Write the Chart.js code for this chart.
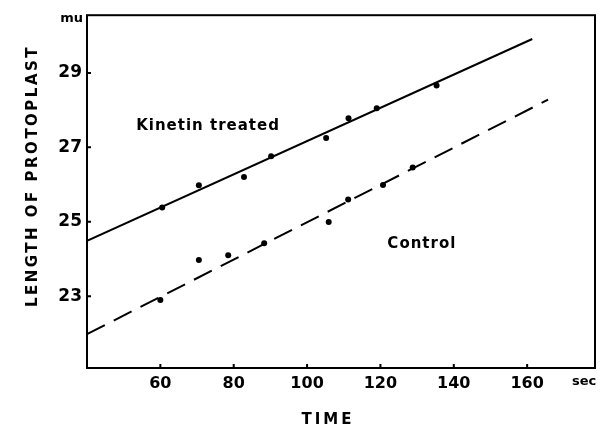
<!DOCTYPE html>
<html>
<head>
<meta charset="utf-8">
<script src="https://cdn.jsdelivr.net/npm/chart.js@4.4.0/dist/chart.umd.min.js"></script>
<style>
  html, body { margin: 0; padding: 0; background: #fff; }
  #wrap { width: 607px; height: 431px; position: relative; }
</style>
</head>
<body>
<div id="wrap"><canvas id="c"></canvas></div>
<script>
// tick labels
const xTicks = [60, 80, 100, 120, 140, 160];
const yTicks = [23, 25, 27, 29];

// measured points (time in sec, length in mu)
const kinetinX = [60.5, 70.5, 82.8, 90.2, 105.2, 111.3, 119.0, 135.3];
const kinetinY = [25.38, 25.98, 26.2, 26.76, 27.25, 27.78, 28.05, 28.66];
const controlX = [60, 70.5, 78.5, 88.3, 105.9, 111.2, 120.7, 128.8];
const controlY = [22.9, 23.97, 24.1, 24.42, 24.99, 25.6, 25.99, 26.46];

// fitted lines (end points)
const kinetinFitX = [40, 161.4];
const kinetinFitY = [24.49, 29.91];
const controlFitX = [40, 165.7];
const controlFitY = [21.98, 28.28];

const toPts = (xs, ys) => xs.map((x, i) => ({ x: x, y: ys[i] }));

const FONT = "'DejaVu Sans', sans-serif";

// frame, inward ticks and text
const decor = {
    id: 'decor',
    afterDraw(chart) {
        const ctx = chart.ctx;
        const a = chart.chartArea;
        const xs = chart.scales.x, ys = chart.scales.y;
        ctx.save();
        ctx.strokeStyle = '#000';
        ctx.lineWidth = 2;
        ctx.strokeRect(a.left, a.top, a.right - a.left, a.bottom - a.top);
        ctx.beginPath();
        xTicks.forEach(v => {
            const p = xs.getPixelForValue(v);
            ctx.moveTo(p, a.bottom); ctx.lineTo(p, a.bottom - 4);
        });
        yTicks.forEach(v => {
            const p = ys.getPixelForValue(v);
            ctx.moveTo(a.left, p); ctx.lineTo(a.left + 4, p);
        });
        ctx.stroke();

        ctx.fillStyle = '#000';
        ctx.textBaseline = 'middle';

        ctx.font = 'bold 15px ' + FONT;
        ctx.textAlign = 'center';
        ctx.letterSpacing = '1px';
        ctx.fillText('Kinetin treated', xs.getPixelForValue(73), ys.getPixelForValue(27.58));
        ctx.fillText('Control', xs.getPixelForValue(131.3), ys.getPixelForValue(24.41));

        ctx.font = 'bold 13px ' + FONT;
        ctx.letterSpacing = '0px';
        ctx.textAlign = 'right';
        ctx.fillText('mu', a.left - 4, a.top + 3);
        ctx.textAlign = 'left';
        ctx.fillText('sec', a.right - 23, a.bottom + 14);

        ctx.font = 'bold 15px ' + FONT;
        ctx.letterSpacing = '3px';
        ctx.textAlign = 'center';
        ctx.fillText('TIME', 328, a.bottom + 52);

        ctx.translate(33, 176);
        ctx.rotate(-Math.PI / 2);
        ctx.letterSpacing = '2.5px';
        ctx.fillText('LENGTH OF PROTOPLAST', 0, 0);
        ctx.restore();
    }
};

new Chart(document.getElementById('c').getContext('2d'), {
    type: 'scatter',
    data: {
        datasets: [
            {
                type: 'line',
                data: toPts(kinetinFitX, kinetinFitY),
                borderColor: '#000',
                borderWidth: 2,
                pointRadius: 0
            },
            {
                type: 'line',
                data: toPts(controlFitX, controlFitY),
                borderColor: '#000',
                borderWidth: 2,
                borderDash: [20, 10],
                pointRadius: 0
            },
            {
                data: toPts(kinetinX, kinetinY),
                backgroundColor: '#000',
                borderWidth: 0,
                pointRadius: 3
            },
            {
                data: toPts(controlX, controlY),
                backgroundColor: '#000',
                borderWidth: 0,
                pointRadius: 3
            }
        ]
    },
    options: {
        responsive: true,
        maintainAspectRatio: false,
        animation: false,
        layout: { padding: { left: 0, top: 13, right: 12, bottom: 0 } },
        plugins: { legend: { display: false }, tooltip: { enabled: false } },
        scales: {
            x: {
                type: 'linear',
                min: 40,
                max: 178.5,
                afterBuildTicks: s => { s.ticks = xTicks.map(v => ({ value: v })); },
                afterFit: s => { s.height = 63; },
                grid: { display: false, drawTicks: false },
                border: { display: false },
                ticks: { color: '#000', padding: 6, font: { family: FONT, weight: 'bold', size: 16 } }
            },
            y: {
                min: 21.07,
                max: 30.55,
                afterBuildTicks: s => { s.ticks = yTicks.map(v => ({ value: v })); },
                afterFit: s => { s.width = 87; },
                grid: { display: false, drawTicks: false },
                border: { display: false },
                ticks: { color: '#000', padding: 5, font: { family: FONT, weight: 'bold', size: 17 } }
            }
        }
    },
    plugins: [decor]
});
</script>
</body>
</html>
